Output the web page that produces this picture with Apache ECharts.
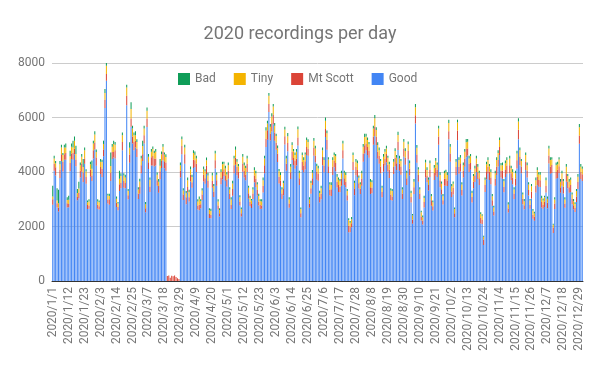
<!DOCTYPE html>
<html><head><meta charset="utf-8">
<script src="https://cdn.jsdelivr.net/npm/echarts@6/dist/echarts.min.js"></script>
<style>html,body{margin:0;padding:0;background:#fff}#c{width:600px;height:371px}</style>
</head><body><div id="c"></div>
<script>
const seriesNames = ['Good', 'Mt Scott', 'Tiny', 'Bad'];
const legendOrder = ['Bad', 'Tiny', 'Mt Scott', 'Good'];
const yTicks = [0, 2000, 4000, 6000, 8000];

const good = [
2800,4050,3870,2700,2550,3780,4400,4020,4450,4450,
2700,2710,4030,4480,4450,4650,4210,2960,3040,3800,
4010,3630,4300,3570,2640,2650,3830,3670,4500,4830,
4230,2650,2620,3930,3820,4580,6350,7350,2840,2800,
3670,4480,4530,4500,2720,2600,3300,3400,4800,3420,
3400,6450,3000,4340,5660,5050,4800,4900,4550,3010,
3200,3950,4400,5050,2520,5650,4110,3270,4240,4240,
4200,4240,3500,3240,3730,4150,4430,4140,4050,0,
0,0,0,0,0,0,0,0,3800,4650,
2970,4300,2820,3250,2920,3650,3420,4150,4180,4000,
2620,2600,2670,2970,3650,3570,3930,3420,2310,2300,
3420,3080,4130,3500,2620,2370,3550,3730,3850,3680,
3460,3750,3010,2640,3130,3950,4270,3880,3760,2770,
2370,4010,3800,3700,4000,3020,2750,2680,3010,3620,
3450,3140,2770,2640,2650,3250,3950,4920,5180,6200,
5160,5490,5750,5150,4820,4370,3580,3490,3010,3150,
5010,4050,4760,2690,3740,4440,4260,4120,4240,4970,
3520,2340,4070,3990,4090,4620,4600,2690,3200,3520,
4600,4360,3720,3680,2880,3000,4250,3990,5280,4820,
3960,3140,3120,3890,4170,4030,3430,3270,3260,3500,
4500,3520,3440,2950,1790,1790,1970,4070,3150,3880,
3820,3390,3190,3500,4380,4680,4800,4620,4520,3190,
3220,5000,5320,4990,4490,4300,3950,3070,4010,4240,
4360,4020,3780,2970,2950,3930,4220,4070,4810,4050,
3900,3010,4560,4270,3520,4470,3870,2880,2100,3190,
5780,4340,3640,3010,2220,2070,2700,3800,3620,3320,
3820,2760,2590,3710,3860,3820,5000,3440,3170,2810,
3500,3500,3490,5200,4380,3080,3170,2340,3880,5170,
3940,4020,3140,3800,4190,4540,4610,4000,4080,2880,
3400,3630,4000,3740,3520,2110,2090,1320,3270,3730,
3940,3710,3550,2760,2400,3500,3890,4200,4620,3800,
3750,3260,3820,3940,2510,3950,3700,3550,3010,3500,
4130,5200,4250,3950,2820,2630,4070,3800,3140,2650,
3030,2280,2210,3250,3520,3460,3450,2700,2650,2720,
3250,2670,4310,3940,3960,1760,2640,3750,3780,3960,
3240,3500,3210,2690,3640,3400,3240,3270,2820,2630,
2530,2900,3380,5040,3740,3670
];
const mtScott = [
200,250,300,150,150,300,250,350,200,250,
150,120,300,200,250,200,250,120,200,250,
300,350,200,250,150,120,250,200,300,250,
300,150,120,250,300,250,300,250,150,200,
300,250,200,300,150,120,250,200,300,250,
200,350,150,300,300,250,300,250,300,200,
250,300,250,300,150,300,250,200,300,350,
300,250,200,250,300,250,300,250,300,180,
200,120,190,170,200,150,100,70,250,300,
200,350,250,200,150,250,200,300,250,300,
150,200,150,200,250,200,300,250,150,120,
250,200,300,200,150,120,250,300,250,200,
250,300,200,150,250,300,250,300,250,150,
120,300,250,200,300,200,150,150,200,250,
300,200,150,150,120,250,300,300,350,300,
250,300,350,300,250,300,250,200,200,250,
300,250,300,150,250,300,250,300,250,300,
250,150,300,250,300,300,250,150,200,250,
300,250,300,250,200,200,300,250,300,350,
250,200,250,300,250,300,200,250,200,250,
300,250,200,200,250,200,150,300,250,300,
250,200,200,250,300,300,250,300,250,250,
200,300,350,300,250,300,250,200,300,250,
300,250,300,200,150,250,300,250,300,250,
300,200,300,250,250,300,250,200,150,250,
300,300,250,200,150,150,200,300,250,200,
250,200,150,250,300,250,300,250,200,150,
250,250,200,300,300,200,250,150,300,350,
250,300,200,250,300,300,250,300,250,200,
250,250,300,250,250,200,150,200,250,300,
250,300,250,200,150,250,300,250,300,250,
300,200,250,300,150,300,250,250,200,250,
300,350,300,250,200,150,300,250,200,150,
250,150,150,250,300,250,250,200,150,200,
250,200,300,250,300,200,200,250,300,250,
200,250,250,150,300,250,200,250,200,150,
150,200,250,300,250,250
];
const tiny = [
100,200,150,100,150,200,250,250,250,200,
120,150,250,250,200,300,200,150,150,200,
250,200,300,200,100,150,200,250,250,300,
200,120,150,200,250,200,250,300,150,120,
250,200,300,200,150,120,200,250,250,200,
200,300,150,250,350,300,250,200,250,150,
200,250,300,250,150,300,200,250,200,250,
200,250,200,150,200,250,200,250,200,0,
0,0,0,0,0,0,0,0,200,250,
150,250,150,250,200,200,200,250,200,200,
150,200,120,150,200,250,200,200,150,150,
200,200,250,200,150,120,200,250,200,250,
200,200,150,200,200,250,300,200,200,150,
150,250,200,250,200,200,150,120,150,200,
200,200,200,150,150,200,250,300,250,300,
250,250,300,250,250,200,200,200,150,200,
250,200,250,150,200,250,250,200,250,300,
200,150,250,200,250,250,250,150,200,200,
250,250,200,200,150,200,250,200,300,250,
250,200,150,250,200,250,200,200,200,200,
250,200,250,150,200,150,150,250,200,200,
250,200,150,200,250,300,250,250,250,200,
200,300,300,250,250,200,200,150,250,250,
200,250,200,150,200,200,250,200,250,200,
200,150,250,250,200,250,200,150,150,200,
300,250,200,150,150,120,150,250,200,200,
250,150,150,200,250,200,300,200,200,150,
200,250,200,300,250,200,150,150,200,300,
250,200,200,200,250,250,250,200,250,150,
200,250,200,200,200,150,150,100,200,250,
250,200,200,150,150,200,250,250,250,200,
200,200,250,200,150,250,200,200,150,200,
250,300,250,200,150,150,250,200,200,150,
200,150,120,200,250,200,200,150,150,150,
200,150,250,250,200,100,150,250,200,250,
200,200,200,150,250,200,200,200,150,150,
150,200,200,300,200,200
];
const bad = [
400,100,80,450,500,120,100,80,100,150,
100,150,200,120,250,150,300,150,250,100,
100,300,100,80,60,80,100,300,100,120,
100,80,60,100,80,120,150,100,60,80,
500,100,120,100,80,60,300,100,100,80,
100,100,80,200,250,100,100,150,100,80,
100,100,200,100,80,120,100,80,100,100,
80,100,80,100,250,100,100,80,100,0,
0,0,0,0,0,0,0,0,100,100,
80,100,80,100,80,100,80,100,120,100,
80,100,60,80,100,80,100,100,60,80,
100,80,100,80,80,60,100,100,80,100,
80,100,80,80,100,100,120,100,80,80,
60,100,100,80,100,80,80,60,80,100,
100,80,80,60,80,100,100,120,100,100,
100,120,100,100,80,100,80,100,80,80,
100,100,120,80,100,100,80,100,100,100,
80,60,100,100,80,100,100,80,80,100,
100,100,80,100,80,100,100,100,120,100,
80,80,100,100,100,80,100,80,80,100,
100,80,100,80,60,60,80,100,80,100,
100,80,80,100,100,120,100,100,80,100,
80,100,120,100,100,100,80,80,100,100,
100,80,100,80,80,100,100,100,120,100,
80,80,100,100,80,100,100,80,60,100,
120,100,80,80,60,60,80,100,100,80,
100,80,60,100,100,80,100,100,80,80,
100,80,100,120,100,80,80,60,100,100,
100,100,80,100,100,120,100,100,80,80,
80,100,100,100,80,60,60,40,80,100,
100,80,100,80,60,100,100,100,100,80,
100,80,100,100,80,100,80,100,80,100,
100,120,100,80,80,80,100,100,80,60,
80,60,60,100,100,80,100,80,80,60,
100,80,100,100,80,40,80,100,100,80,
100,100,80,80,100,80,100,80,80,80,
60,80,100,120,100,80
];

const categories = [];
for (let t = Date.UTC(2020,0,1); t <= Date.UTC(2020,11,31); t += 86400000) {
  const d = new Date(t);
  categories.push(d.getUTCFullYear() + '/' + (d.getUTCMonth()+1) + '/' + d.getUTCDate());
}

const colors = {'Good':'#4285f4','Mt Scott':'#db4437','Tiny':'#f4b400','Bad':'#0f9d58'};
const dataMap = {'Good':good,'Mt Scott':mtScott,'Tiny':tiny,'Bad':bad};
const FONT = 'Roboto, Arial, sans-serif';

const chart = echarts.init(document.getElementById('c'), null, {renderer:'canvas'});
chart.setOption({
  animation: false,
  title: {
    text: '2020 recordings per day', left: 'center', top: 20,
    textStyle: {fontFamily: FONT, fontSize: 18, fontWeight: 'normal', color: '#757575'}
  },
  legend: {
    data: legendOrder, left: 173, top: 68, itemWidth: 12, itemHeight: 12, itemGap: 18,
    icon: 'rect',
    textStyle: {fontFamily: FONT, fontSize: 12, color: '#757575'}
  },
  grid: {left: 52, right: 17, top: 63, bottom: 90, containLabel: false},
  xAxis: {
    type: 'category', data: categories,
    axisLine: {lineStyle: {color: '#333', width: 1}},
    axisTick: {show: false},
    axisLabel: {interval: 10, rotate: 90, margin: 6, fontFamily: FONT, fontSize: 12, color: '#757575'}
  },
  yAxis: {
    type: 'value', min: yTicks[0], max: yTicks[yTicks.length-1], interval: 2000,
    axisLine: {show: false}, axisTick: {show: false},
    splitLine: {lineStyle: {color: '#cccccc'}},
    axisLabel: {margin: 7, fontFamily: FONT, fontSize: 12, color: '#757575', formatter: v => String(v)}
  },
  series: seriesNames.map(n => ({
    name: n, type: 'bar', stack: 'all', data: dataMap[n],
    barCategoryGap: '30%',
    itemStyle: {color: colors[n]}
  }))
});
</script>
</body></html>
